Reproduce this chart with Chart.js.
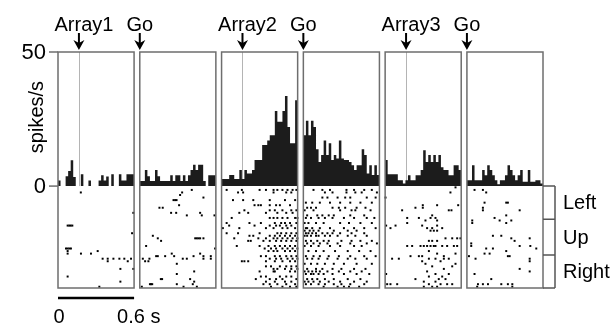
<!DOCTYPE html>
<html>
<head>
<meta charset="utf-8">
<script src="https://cdn.jsdelivr.net/npm/chart.js@4.4.1/dist/chart.umd.min.js"></script>
<style>
  html, body { margin: 0; padding: 0; background: #fff; }
  #wrap { width: 614px; height: 325px; }
</style>
</head>
<body>
<div id="wrap"><canvas id="chart" width="614" height="325"></canvas></div>
<script>
// PSTH + raster, 6 panels of 0.6 s (Array1 | Go | Array2 | Go | Array3 | Go)

const eventLabels = ['Array1', 'Go', 'Array2', 'Go', 'Array3', 'Go'];
const eventTimes = [0.165, 0, 0.165, 0, 0.165, 0];   // s, inside each panel
const onsetLine = [true, false, true, false, true, false];
const yTicks = [0, 50];
const groups = ['Left', 'Up', 'Right'];
const groupSizes = [13, 14, 13];
const binMs = 20;
const panelSec = 0.6;
const gapSec = 0.045;

// spikes/s per 20 ms bin
const hist1 = [2.1, 0, 0, 3.7, 5.6, 9.6, 3.4, 0, 0, 4.4, 0, 0, 2.1, 0, 0, 0, 2.1, 4, 2.1, 3.6, 0, 4.4, 0, 0, 4.4, 2.1, 2.1, 4.4, 4.4, 4.4];
const hist2 = [1.9, 1.9, 6, 3.7, 1.9, 1.9, 6, 3.7, 1.9, 1.9, 1.9, 1.9, 4, 1.9, 4, 4, 1.9, 4, 1.9, 4, 6, 8, 6, 8, 8, 1.9, 0, 4, 4, 4];
const hist3 = [2.6, 2.6, 2.6, 4.1, 4.1, 2.6, 2.6, 6, 2.6, 6, 4.7, 4.7, 6, 9.7, 9.7, 9.7, 15.3, 15.3, 17, 19, 19, 28, 24, 24, 28, 33.6, 22, 16, 16, 32];
const hist4 = [19, 24.4, 19, 24.4, 22, 13.7, 9, 11.6, 17, 11.6, 16, 9.7, 11.6, 10.3, 17, 10.3, 9.7, 9.7, 9, 7.8, 6, 7.8, 7.8, 13.7, 11.6, 4.7, 7.8, 4.1, 7.8, 4.1];
const hist5 = [9.7, 4.4, 4.4, 4.4, 4.4, 2.2, 2.2, 1, 2.2, 4, 2.2, 2.2, 4, 4, 6, 13.4, 9, 11.6, 9, 11.6, 9, 11.6, 7, 6, 6, 4, 4, 7.8, 7.8, 6];
const hist6 = [2.2, 2.2, 7.8, 2.2, 2.2, 2.2, 6, 4, 7.8, 6, 4, 2.2, 0.7, 2.2, 2.2, 4, 7.8, 6, 4, 2.2, 4, 6, 1.6, 1.6, 6, 1.6, 1.6, 2.2, 2.2, 1];

// raster rows: [trial, spike times in ms...]
const raster1 = [
  [2, 180], [10, 594], [15, 76, 89, 100, 113], [18, 584], [24, 63, 76, 89, 102], [25, 76, 313],
  [26, 76, 181, 260], [28, 352, 392, 437, 484, 523, 576], [29, 392, 550], [32, 492, 594],
  [35, 76], [37, 492], [39, 326]
];
const raster2 = [
  [1, 410], [2, 334], [3, 318], [4, 502], [5, 266, 279, 290], [7, 310], [8, 155, 181],
  [10, 247, 287, 476], [11, 371, 489, 589], [19, 103], [20, 142, 437, 450, 463, 476, 502],
  [21, 168], [23, 50], [24, 594], [26, 252, 476], [27, 129, 142, 200, 271, 424, 502, 560],
  [28, 24, 76, 339, 371, 502, 560], [29, 42, 68], [30, 292], [33, 429], [34, 292],
  [36, 166, 176, 397], [37, 429], [38, 80, 89, 98, 292, 418], [39, 16, 345, 450]
];
const raster3 = [
  [1, 40, 160, 300, 350, 410, 440, 480, 520, 560, 590], [2, 130, 170, 410, 510, 550],
  [5, 90, 170, 250, 380, 500, 580], [7, 260, 290, 310, 380, 430, 460, 540],
  [9, 180, 380, 420, 480, 550, 590], [10, 140, 210, 350, 440, 510, 560],
  [12, 80, 380, 410, 440, 480, 520, 580, 598], [14, 40, 220, 310, 420, 470, 500, 540, 590],
  [15, 60, 260, 380, 430, 460, 510, 550], [16, 10, 140, 350, 410, 480, 520, 580],
  [18, 40, 130, 300, 440, 470, 510, 550, 590], [19, 220, 250, 380, 420, 460, 500, 540, 580],
  [20, 100, 290, 350, 410, 440, 480, 520, 560, 598], [21, 210, 230, 330, 380, 430, 470, 510, 550, 590],
  [23, 120, 300, 370, 420, 460, 500, 540, 580], [24, 340, 390, 430, 480, 520, 560, 598],
  [25, 370, 410, 440, 500, 540, 580], [27, 310, 350, 420, 460, 510, 550, 590],
  [28, 380, 430, 470, 520, 560, 598], [29, 160, 180, 210, 350, 420, 480, 540, 580],
  [31, 350, 390, 460, 510, 550, 590], [32, 410, 440, 500, 550, 598], [33, 300, 410, 420, 540, 580],
  [35, 310, 350, 460, 510, 550], [36, 270, 380, 430, 480, 590], [37, 350, 420, 500, 550],
  [38, 330, 380, 440, 510, 580], [39, 390, 480, 540, 590]
];
const raster4 = [
  [1, 80, 150, 210, 340, 400, 480, 540], [2, 170, 230, 340, 410, 460, 580],
  [4, 150, 190, 270, 330, 370, 500, 570], [6, 20, 70, 130, 210, 290, 370, 450, 540],
  [8, 30, 60, 100, 230, 280, 330, 420, 490], [9, 10, 80, 290, 380, 410, 530],
  [11, 30, 110, 150, 200, 240, 370, 480], [12, 20, 60, 120, 170, 230, 320, 400, 500, 560],
  [14, 10, 40, 100, 160, 290, 360, 450, 540], [16, 20, 30, 70, 130, 210, 320, 400, 480, 570],
  [17, 10, 50, 80, 120, 240, 350, 420], [18, 20, 40, 70, 100, 150, 190, 230, 290, 380, 480],
  [19, 10, 30, 60, 100, 120, 170, 210, 270, 350, 410, 500], [21, 20, 60, 110, 160, 200, 300, 380, 450, 540],
  [22, 30, 80, 130, 190, 270, 370, 500, 580], [23, 10, 60, 120, 210, 290, 400, 460],
  [25, 40, 100, 160, 250, 350, 440, 530], [27, 20, 80, 130, 200, 280, 370, 480, 570],
  [28, 30, 70, 120, 190, 270, 350, 410, 500], [30, 10, 60, 110, 170, 240, 320, 420, 540],
  [32, 30, 100, 150, 230, 300, 400, 490], [33, 10, 40, 70, 100, 130, 190, 280, 370, 460],
  [34, 20, 60, 80, 120, 160, 230, 320, 420, 520], [36, 30, 70, 110, 170, 240, 350, 450],
  [37, 10, 40, 80, 130, 200, 290, 400, 500], [38, 20, 60, 120, 170, 240, 300, 370, 480],
  [39, 160, 270, 320, 360, 440]
];
const raster5 = [
  [0, 555], [2, 515], [4, 3], [7, 297, 410, 576], [8, 239, 297], [9, 134, 502, 523], [11, 371],
  [12, 174, 266, 358, 397], [13, 318, 410], [14, 174], [15, 8, 82, 292, 410], [16, 42, 331, 371, 450],
  [17, 358, 384, 410], [20, 476, 529, 568, 594], [21, 345, 371, 410],
  [23, 174, 213, 279, 305, 331, 358, 384, 397, 450, 489, 542, 568], [25, 345], [26, 410, 555],
  [27, 200, 266, 292, 463], [28, 55, 108, 345, 397, 463, 502], [29, 292, 437], [30, 318, 555],
  [31, 371, 529], [32, 463], [33, 331], [34, 8, 397, 502], [35, 345, 450], [36, 239, 423, 476],
  [37, 305, 397], [38, 16, 42, 95, 345, 437, 489, 529], [39, 305, 371, 410]
];
const raster6 = [
  [1, 60, 126], [2, 152], [6, 139, 310, 323], [8, 126], [9, 126, 416], [11, 310], [12, 218],
  [13, 42, 258, 350], [14, 42, 310], [19, 205, 271], [20, 350, 495], [21, 376], [22, 34],
  [23, 34, 416, 500], [24, 152, 205, 547], [25, 310], [26, 139, 179], [27, 16, 323, 337],
  [28, 68, 495], [29, 495], [32, 416], [33, 495], [34, 60], [36, 192],
  [38, 87, 126, 166, 271, 323, 358], [39, 81, 358]
];

const hists = [hist1, hist2, hist3, hist4, hist5, hist6];
const rasters = [raster1, raster2, raster3, raster4, raster5, raster6];
const nTrials = groupSizes.reduce((a, b) => a + b, 0);
const yMax = 50, yMin = -38;
const rowH = -yMin / nTrials;
const FONT = '20px "Liberation Sans", Arial, sans-serif';
const TICK_FONT = '22px "Liberation Sans", Arial, sans-serif';

function panelStart(k) { return k * (panelSec + gapSec); }

const datasets = [];
hists.forEach((h, k) => {
    const pts = [];
    h.forEach((v, i) => {
        const x0 = panelStart(k) + i * binMs / 1000;
        pts.push({ x: x0, y: v }, { x: x0 + binMs / 1000, y: v });
    });
    datasets.push({
        type: 'line', data: pts, fill: 'origin', backgroundColor: '#1c1c1c',
        borderColor: 'rgba(0,0,0,0)', borderWidth: 0, pointRadius: 0, tension: 0
    });
});
rasters.forEach((rows, k) => {
    const pts = [];
    rows.forEach(r => {
        for (let j = 1; j < r.length; j++) pts.push({ x: panelStart(k) + r[j] / 1000, y: r[0] });
    });
    datasets.push({
        type: 'scatter', data: pts, yAxisID: 'yr', pointStyle: 'rect', pointRadius: 1.4,
        pointBackgroundColor: '#000', pointBorderWidth: 0, showLine: false
    });
});

// frames, arrows, labels, bracket
const overlay = {
    id: 'overlay',
    beforeDatasetsDraw(chart) {
        const { ctx, scales: { x, y } } = chart;
        ctx.save();
        ctx.strokeStyle = '#b4b4b4';
        ctx.lineWidth = 1;
        eventTimes.forEach((t, k) => {
            if (!onsetLine[k]) return;
            const px = Math.round(x.getPixelForValue(panelStart(k) + t)) + 0.5;
            ctx.beginPath();
            ctx.moveTo(px, y.getPixelForValue(yMax));
            ctx.lineTo(px, y.getPixelForValue(0));
            ctx.stroke();
        });
        ctx.restore();
    },
    afterDatasetsDraw(chart) {
        const { ctx, chartArea: a, scales: { x, y, yr } } = chart;
        ctx.save();

        // panel frames
        ctx.strokeStyle = '#6e6e6e';
        ctx.lineWidth = 1.5;
        hists.forEach((h, k) => {
            const x0 = x.getPixelForValue(panelStart(k));
            const x1 = x.getPixelForValue(panelStart(k) + panelSec);
            const y0 = y.getPixelForValue(yMax);
            const y1 = y.getPixelForValue(yMin);
            ctx.strokeRect(x0, y0, x1 - x0, y1 - y0);
        });

        // y ticks
        ctx.font = TICK_FONT;
        ctx.fillStyle = '#000';
        ctx.textAlign = 'right';
        ctx.textBaseline = 'middle';
        yTicks.forEach(v => {
            const py = y.getPixelForValue(v);
            ctx.strokeStyle = '#6e6e6e';
            ctx.beginPath();
            ctx.moveTo(a.left - 9, py);
            ctx.lineTo(a.left, py);
            ctx.stroke();
            ctx.fillText(String(v), a.left - 12, py + 1);
        });
        ctx.font = FONT;
        ctx.save();
        ctx.translate(a.left - 21, (y.getPixelForValue(yMax) + y.getPixelForValue(0)) / 2 - 2);
        ctx.rotate(-Math.PI / 2);
        ctx.textAlign = 'center';
        ctx.fillText('spikes/s', 0, 0);
        ctx.restore();

        // event arrows
        ctx.textBaseline = 'alphabetic';
        ctx.textAlign = 'center';
        eventTimes.forEach((t, k) => {
            const px = x.getPixelForValue(panelStart(k) + t);
            const tip = a.top - 2;
            ctx.strokeStyle = '#000';
            ctx.lineWidth = 2;
            ctx.beginPath();
            ctx.moveTo(px, a.top - 19);
            ctx.lineTo(px, tip - 4);
            ctx.stroke();
            ctx.beginPath();
            ctx.moveTo(px, tip);
            ctx.lineTo(px - 5.5, tip - 10);
            ctx.lineTo(px, tip - 7);
            ctx.lineTo(px + 5.5, tip - 10);
            ctx.closePath();
            ctx.fill();
            const lx = eventLabels[k] === 'Go' ? px : px + 5;
            ctx.fillText(eventLabels[k], lx, a.top - 21);
        });

        // trial group bracket
        const bx0 = a.right, bx1 = a.right + 12;
        let start = 0;
        const edges = [yr.getPixelForValue(-0.5)];
        groupSizes.forEach(n => { start += n; edges.push(yr.getPixelForValue(start - 0.5)); });
        ctx.strokeStyle = '#555';
        ctx.lineWidth = 1.5;
        ctx.beginPath();
        ctx.moveTo(bx1, edges[0]);
        ctx.lineTo(bx1, edges[edges.length - 1]);
        edges.forEach(e => { ctx.moveTo(bx0, e); ctx.lineTo(bx1, e); });
        ctx.stroke();
        ctx.textAlign = 'left';
        ctx.textBaseline = 'middle';
        groups.forEach((g, i) => {
            ctx.fillText(g, bx1 + 8, (edges[i] + edges[i + 1]) / 2 + 1);
        });

        // time scale bar
        const s0 = x.getPixelForValue(panelStart(0));
        const s1 = x.getPixelForValue(panelStart(0) + panelSec);
        ctx.lineWidth = 2.5;
        ctx.strokeStyle = '#000';
        ctx.beginPath();
        ctx.moveTo(s0, a.bottom + 10);
        ctx.lineTo(s1, a.bottom + 10);
        ctx.stroke();
        ctx.textBaseline = 'alphabetic';
        ctx.textAlign = 'center';
        ctx.fillText('0', s0 + 1, a.bottom + 35);
        ctx.textAlign = 'left';
        ctx.fillText(panelSec + ' s', s1 - 17, a.bottom + 35);

        ctx.restore();
    }
};

new Chart(document.getElementById('chart'), {
    type: 'scatter',
    data: { datasets: datasets },
    options: {
        responsive: false,
        devicePixelRatio: 1,
        animation: false,
        layout: { padding: { left: 58, right: 71, top: 52, bottom: 37 } },
        plugins: { legend: { display: false }, tooltip: { enabled: false } },
        scales: {
            x: { type: 'linear', display: false, min: 0, max: panelStart(5) + panelSec },
            y: { display: false, min: yMin, max: yMax },
            yr: { display: false, reverse: true, min: -0.5 - yMax / rowH, max: nTrials - 0.5 }
        }
    },
    plugins: [overlay]
});
</script>
</body>
</html>
